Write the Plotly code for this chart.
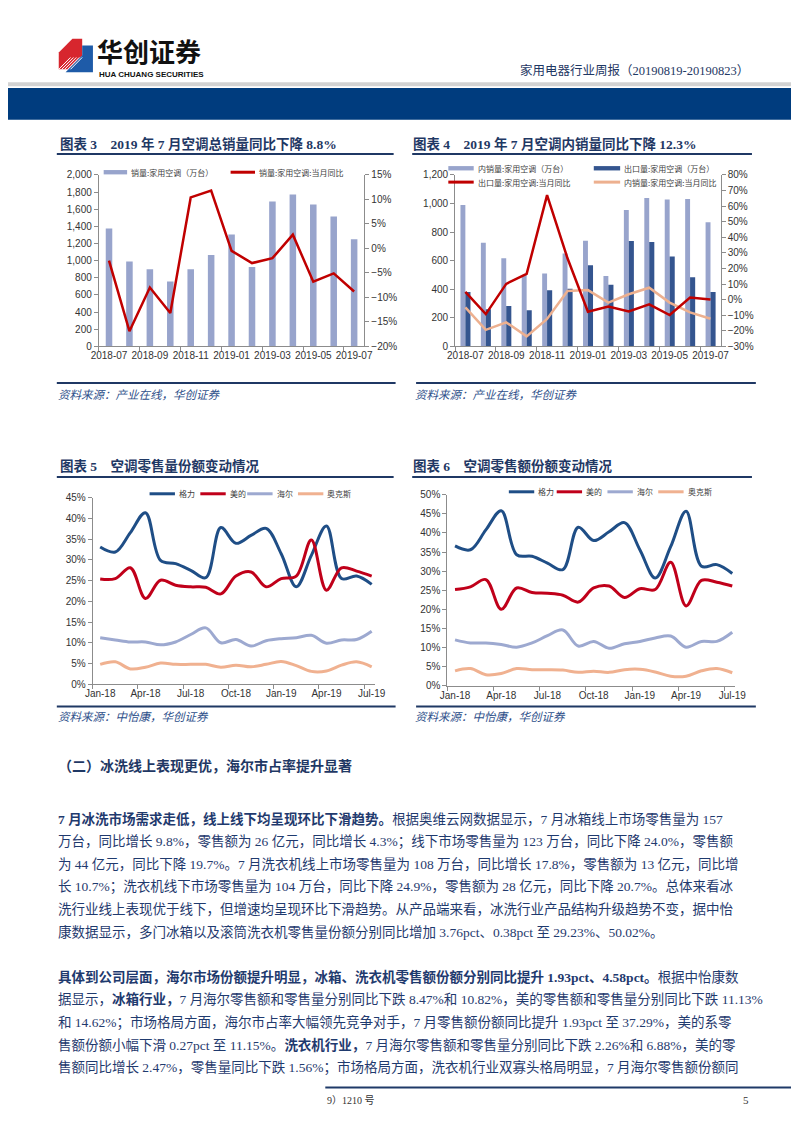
import plotly.graph_objects as go

W, H = 802, 1133


def X(px):
    return px / W


def Y(py):
    return 1 - py / H


# ---------------- data ----------------
ac_months = ["2018-07", "2018-08", "2018-09", "2018-10", "2018-11", "2018-12",
             "2019-01", "2019-02", "2019-03", "2019-04", "2019-05", "2019-06", "2019-07"]
ac_sales = [1374, 990, 898, 756, 898, 1067, 1305, 925, 1689, 1770, 1655, 1516, 1248]
ac_sales_yoy = [-2.5, -16.9, -8.0, -13.2, 10.4, 11.8, -0.5, -3.0, -2.0, 2.8, -6.8, -5.1, -8.8]

domestic_sales = [990, 725, 617, 500, 509, 650, 739, 493, 954, 1039, 1027, 1032, 868]
export_sales = [380, 260, 283, 253, 392, 403, 567, 431, 737, 730, 629, 484, 380]
export_yoy = [4.9, -9.3, 10.1, 16.5, 67.0, 26.5, -7.8, -4.4, -7.6, -3.0, -9.9, 1.3, 0.0]
domestic_yoy = [-5.0, -19.4, -14.6, -23.6, -12.4, 5.5, 6.1, -1.9, 3.4, 7.6, -1.9, -8.2, -12.3]

share_months = ["Jan-18", "Feb-18", "Mar-18", "Apr-18", "May-18", "Jun-18", "Jul-18",
                "Aug-18", "Sep-18", "Oct-18", "Nov-18", "Dec-18", "Jan-19", "Feb-19",
                "Mar-19", "Apr-19", "May-19", "Jun-19", "Jul-19"]
brands = ["格力", "美的", "海尔", "奥克斯"]
vol_gree = [33.1, 31.9, 36.6, 41.4, 29.9, 29.1, 27.5, 25.7, 37.8, 34.0, 35.9, 37.6, 31.5, 23.5, 31.1, 38.2, 25.5, 26.1, 24.1]
vol_midea = [25.4, 25.5, 28.1, 20.7, 25.1, 23.9, 23.5, 23.4, 21.8, 26.1, 27.1, 23.5, 25.5, 26.1, 34.8, 22.7, 28.1, 27.3, 26.1]
vol_haier = [11.2, 10.7, 10.2, 10.2, 9.5, 10.2, 12.0, 13.6, 10.0, 10.8, 9.2, 10.5, 11.0, 11.2, 11.8, 9.9, 10.7, 10.8, 12.8]
vol_aux = [4.8, 5.4, 3.7, 4.1, 5.1, 4.8, 4.8, 4.8, 4.1, 4.6, 4.2, 4.8, 5.5, 4.5, 3.1, 3.2, 4.6, 5.4, 4.2]

val_gree = [36.6, 35.6, 40.8, 45.8, 34.3, 33.9, 32.1, 30.4, 41.5, 38.0, 40.3, 42.7, 35.6, 28.2, 36.4, 45.7, 31.3, 31.7, 29.4]
val_midea = [25.2, 25.9, 27.8, 20.0, 25.6, 24.4, 24.2, 23.7, 21.9, 25.6, 26.1, 23.1, 25.4, 25.2, 32.3, 20.9, 27.6, 27.1, 26.1]
val_haier = [12.0, 11.2, 11.2, 10.8, 10.1, 11.2, 13.1, 14.6, 10.4, 11.6, 9.8, 11.0, 11.6, 12.5, 13.0, 10.1, 11.6, 11.6, 14.0]
val_aux = [3.9, 4.5, 2.9, 3.2, 4.5, 4.2, 4.2, 4.1, 3.5, 3.8, 3.5, 4.2, 4.3, 3.6, 2.5, 2.5, 3.9, 4.5, 3.4]

# ---------------- styles ----------------
C_BAR_LIGHT = "#98A4CC"
C_BAR_DARK = "#34558F"
C_RED = "#C00000"
C_TAN = "#EDB08F"
C_GREE = "#1F4E86"
C_MIDEA = "#C0001A"
C_HAIER = "#9DA9D0"
C_AUX = "#F0B190"
NAVY = "#1F3864"
AXC = "#8C8C8C"
TICKF = dict(family="Liberation Sans, Arial", size=10, color="#333333")
CJK = "Liberation Serif, Noto Sans CJK SC"

fig = go.Figure()

ac_idx = list(range(len(ac_months)))
sh_idx = list(range(len(share_months)))

# Chart 3
fig.add_trace(go.Bar(x=ac_idx, y=ac_sales, xaxis="x", yaxis="y", width=0.32,
                     marker=dict(color=C_BAR_LIGHT, line=dict(width=0)), showlegend=False))
fig.add_trace(go.Scatter(x=ac_idx, y=ac_sales_yoy, xaxis="x", yaxis="y2", mode="lines",
                         line=dict(color=C_RED, width=2.5), showlegend=False))
# Chart 4
fig.add_trace(go.Bar(x=ac_idx, y=domestic_sales, xaxis="x2", yaxis="y3", width=0.24, offset=-0.24,
                     marker=dict(color=C_BAR_LIGHT, line=dict(width=0)), showlegend=False))
fig.add_trace(go.Bar(x=ac_idx, y=export_sales, xaxis="x2", yaxis="y3", width=0.25, offset=0.0,
                     marker=dict(color=C_BAR_DARK, line=dict(width=0)), showlegend=False))
fig.add_trace(go.Scatter(x=ac_idx, y=domestic_yoy, xaxis="x2", yaxis="y4", mode="lines",
                         line=dict(color=C_TAN, width=2.5), showlegend=False))
fig.add_trace(go.Scatter(x=ac_idx, y=export_yoy, xaxis="x2", yaxis="y4", mode="lines",
                         line=dict(color=C_RED, width=2.5), showlegend=False))
# Chart 5 & 6
for xa, ya, series in [("x3", "y5", [vol_gree, vol_midea, vol_haier, vol_aux]),
                       ("x4", "y6", [val_gree, val_midea, val_haier, val_aux])]:
    for s, col in zip(series, [C_GREE, C_MIDEA, C_HAIER, C_AUX]):
        fig.add_trace(go.Scatter(x=sh_idx, y=s, xaxis=xa, yaxis=ya, mode="lines",
                                 line=dict(color=col, width=3, shape="spline", smoothing=1.0),
                                 showlegend=False))


def yax(domain, rng, dtick, **kw):
    d = dict(domain=domain, range=rng, dtick=dtick, showline=True, linecolor=AXC, linewidth=1,
             ticks="outside", ticklen=4, tickcolor=AXC, showgrid=False, zeroline=False,
             tickfont=TICKF, fixedrange=True)
    d.update(kw)
    return d


def xax(domain, anchor, rng, tickvals, ticktext, m0, mdt):
    return dict(domain=domain, anchor=anchor, range=rng, tickmode="array", tickvals=tickvals,
                ticktext=ticktext, ticks="", showline=True, linecolor=AXC, linewidth=1,
                showgrid=False, zeroline=False, tickfont=TICKF,
                minor=dict(tick0=m0, dtick=mdt, ticks="outside", ticklen=4, tickcolor=AXC, showgrid=False))


dom34 = [Y(344), Y(170.7)]
fig.update_layout(
    xaxis=xax([X(93), X(365)], "y", [-0.5, 12.5], ac_idx[::2], ac_months[::2], -0.5, 2),
    yaxis=yax(dom34, [0, 2000], 200, anchor="x", tickformat=","),
    yaxis2=yax(dom34, [-20, 15], 5, anchor="x", overlaying="y", side="right", ticksuffix="%"),
    xaxis2=xax([X(458), X(730)], "y3", [-0.5, 12.5], ac_idx[::2], ac_months[::2], -0.5, 2),
    yaxis3=yax(dom34, [0, 1200], 200, anchor="x2", tickformat=","),
    yaxis4=yax(dom34, [-30, 80], 10, anchor="x2", overlaying="y3", side="right", ticksuffix="%"),
    xaxis3=xax([X(86.7), X(375.6)], "y5", [-0.5, 18.2], sh_idx[::3], share_months[::3], -0.5, 3),
    yaxis5=yax([Y(685.5), Y(497)], [0, 45], 5, anchor="x3", ticksuffix="%"),
    xaxis4=xax([X(450), X(745)], "y6", [-0.5, 18.2], sh_idx[::3], share_months[::3], -0.5, 3),
    yaxis6=yax([Y(687), Y(494)], [0, 50], 5, anchor="x4", ticksuffix="%"),
)

shapes = []
annotations = []


def rect(x0, y0, x1, y1, color):
    shapes.append(dict(type="rect", xref="paper", yref="paper", x0=X(x0), x1=X(x1), y0=Y(y1), y1=Y(y0),
                       fillcolor=color, line=dict(width=0), layer="above"))


def hline(x0, x1, y, color, width):
    shapes.append(dict(type="line", xref="paper", yref="paper", x0=X(x0), x1=X(x1), y0=Y(y), y1=Y(y),
                       line=dict(color=color, width=width), layer="above"))


def text(x, y, s, size=14, color=NAVY, anchor="left", family=CJK, italic=False):
    annotations.append(dict(xref="paper", yref="paper", x=X(x), y=Y(y), text=s, showarrow=False,
                            xanchor=anchor, yanchor="middle", align=anchor, borderpad=0,
                            font=dict(size=size, color=color, family=family,
                                      style="italic" if italic else "normal")))


# ---------------- header ----------------
shapes.append(dict(type="path", xref="paper", yref="paper", layer="above",
                   path="M %f,%f L %f,%f L %f,%f L %f,%f L %f,%f L %f,%f Z" % (
                       X(52), Y(47), X(66), Y(33), X(76), Y(33), X(76), Y(50), X(62), Y(64), X(52), Y(64)),
                   fillcolor="#D7262E", line=dict(width=0)))
shapes.append(dict(type="path", xref="paper", yref="paper", layer="above",
                   path="M %f,%f L %f,%f L %f,%f L %f,%f L %f,%f Z" % (
                       X(76), Y(40), X(87), Y(40), X(87), Y(67), X(59), Y(67), X(76), Y(50)),
                   fillcolor="#1E5BA8", line=dict(width=0)))
for k in range(5):
    shapes.append(dict(type="line", xref="paper", yref="paper", layer="above",
                       x0=X(52 + 3 * k), y0=Y(64), x1=X(64 + 3 * k), y1=Y(52),
                       line=dict(color="white", width=1)))
text(90, 45, "<b>华创证券</b>", size=26, color="#111111", family="Noto Sans CJK SC")
text(92, 69.5, "<b>HUA CHUANG SECURITIES</b>", size=8, color="#111111", family="Liberation Sans Narrow, Liberation Sans")
text(760, 65, "家用电器行业周报（20190819-20190823）", size=12.5, color=NAVY, anchor="right")
rect(0, 77, 802, 81, "#D2D2D2")
rect(0, 83, 802, 115, "#003C7E")

# ---------------- chart titles ----------------
sp = "\u00a0" * 4
text(52, 139, "<b>图表 3" + sp + "2019 年 7 月空调总销量同比下降 8.8%</b>", size=13.5)
text(414, 139, "<b>图表 4" + sp + "2019 年 7 月空调内销量同比下降 12.3%</b>", size=13.5)
text(52, 465, "<b>图表 5" + sp + "空调零售量份额变动情况</b>", size=13.5)
text(414, 465, "<b>图表 6" + sp + "空调零售额份额变动情况</b>", size=13.5)
hline(50, 395, 149.5, NAVY, 2)
hline(414, 762, 149.5, NAVY, 2)
hline(50, 395, 476, NAVY, 2)
hline(414, 762, 476, NAVY, 2)

# sources
hline(50, 397, 381, NAVY, 2)
hline(418, 766, 381, NAVY, 2)
hline(50, 397, 708, NAVY, 2)
hline(418, 766, 708, NAVY, 2)
SRC = "#2E4F8A"
text(50, 393, "资料来源：产业在线，华创证券", size=11.5, color=SRC, italic=True)
text(416, 393, "资料来源：产业在线，华创证券", size=11.5, color=SRC, italic=True)
text(50, 719, "资料来源：中怡康，华创证券", size=11.5, color=SRC, italic=True)
text(416, 719, "资料来源：中怡康，华创证券", size=11.5, color=SRC, italic=True)

# ---------------- legends ----------------
LG = "#404040"


def leg_bar(x0, x1, y, color, label):
    rect(x0, y - 2.2, x1, y + 2.2, color)
    text(x1 + 3, y, label, size=8, color=LG, family="Noto Sans CJK SC")


def leg_line(x0, x1, y, color, label):
    hline(x0, x1, y, color, 3)
    text(x1 + 3, y, label, size=8, color=LG, family="Noto Sans CJK SC")


leg_bar(98, 122, 168, C_BAR_LIGHT, "销量:家用空调（万台）")
leg_line(228, 253, 168, C_RED, "销量:家用空调:当月同比")

leg_bar(451, 477, 164, C_BAR_LIGHT, "内销量:家用空调（万台）")
leg_bar(600, 627, 164, C_BAR_DARK, "出口量:家用空调（万台）")
leg_line(451, 477, 178, C_RED, "出口量:家用空调:当月同比")
leg_line(600, 627, 178, C_TAN, "内销量:家用空调:当月同比")

for (xs, y) in [([145, 197, 245, 297], 493), ([513, 562, 614, 666], 491)]:
    for xx, b, col in zip(xs, brands, [C_GREE, C_MIDEA, C_HAIER, C_AUX]):
        leg_line(xx, xx + 26, y, col, b)

# ---------------- body text ----------------
BODY = "#1F3A6E"
text(50, 768, "<b>（二）冰洗线上表现更优，海尔市占率提升显著</b>", size=14, color=NAVY)
para1 = [
    "<b>7 月冰洗市场需求走低，线上线下均呈现环比下滑趋势。</b>根据奥维云网数据显示，7 月冰箱线上市场零售量为 157",
    "万台，同比增长 9.8%，零售额为 26 亿元，同比增长 4.3%；线下市场零售量为 123 万台，同比下降 24.0%，零售额",
    "为 44 亿元，同比下降 19.7%。7 月洗衣机线上市场零售量为 108 万台，同比增长 17.8%，零售额为 13 亿元，同比增",
    "长 10.7%；洗衣机线下市场零售量为 104 万台，同比下降 24.9%，零售额为 28 亿元，同比下降 20.7%。总体来看冰",
    "洗行业线上表现优于线下，但增速均呈现环比下滑趋势。从产品端来看，冰洗行业产品结构升级趋势不变，据中怡",
    "康数据显示，多门冰箱以及滚筒洗衣机零售量份额分别同比增加 3.76pct、0.38pct 至 29.23%、50.02%。",
]
para2 = [
    "<b>具体到公司层面，海尔市场份额提升明显，冰箱、洗衣机零售额份额分别同比提升 1.93pct、4.58pct。</b>根据中怡康数",
    "据显示，<b>冰箱行业，</b>7 月海尔零售额和零售量分别同比下跌 8.47%和 10.82%，美的零售额和零售量分别同比下跌 11.13%",
    "和 14.62%；市场格局方面，海尔市占率大幅领先竞争对手，7 月零售额份额同比提升 1.93pct 至 37.29%，美的系零",
    "售额份额小幅下滑 0.27pct 至 11.15%。<b>洗衣机行业，</b>7 月海尔零售额和零售量分别同比下跌 2.26%和 6.88%，美的零",
    "售额同比增长 2.47%，零售量同比下跌 1.56%；市场格局方面，洗衣机行业双寡头格局明显，7 月海尔零售额份额同",
]
for i, s in enumerate(para1):
    text(50, 822 + i * 22.8, s, size=13.5, color=BODY)
for i, s in enumerate(para2):
    text(50, 981 + i * 23, s, size=13.5, color=BODY)

# footer
hline(325, 802, 1093, "#1F3A68", 2)
text(326, 1106, "9）1210 号", size=10, color="#333333")
text(760, 1106, "5", size=11, color="#333333", anchor="right")

fig.update_layout(
    width=W, height=H, margin=dict(l=0, r=0, t=0, b=0), autosize=False,
    paper_bgcolor="white", plot_bgcolor="white",
    shapes=shapes, annotations=annotations, showlegend=False,
    font=dict(family=CJK),
)

fig.write_html("out.html", config={"displayModeBar": False},
               post_script="document.body.style.margin='0';document.body.style.overflow='hidden';")
